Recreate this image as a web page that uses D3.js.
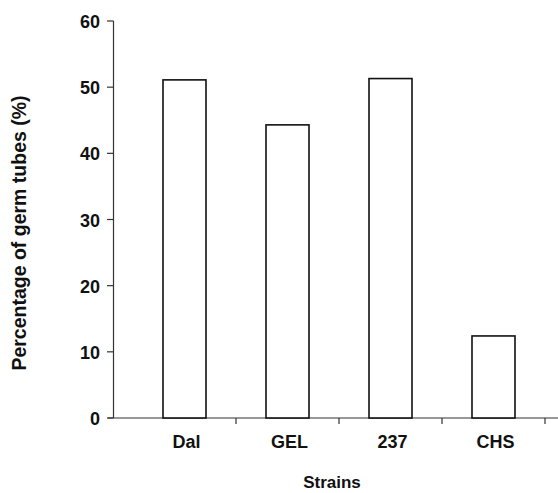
<!DOCTYPE html>
<html>
<head>
<meta charset="utf-8">
<script src="https://cdn.jsdelivr.net/npm/d3@7"></script>
<style>
  body { margin: 0; background: #fff; }
  text { font-family: "Liberation Sans", Arial, sans-serif; font-weight: bold; fill: #111; }
</style>
</head>
<body>
<div id="chart"></div>
<script>
// data
const strains = ["Dal", "GEL", "237", "CHS"];
const percentages = [51.1, 44.3, 51.3, 12.4];
const yTicks = [0, 10, 20, 30, 40, 50, 60];

const svg = d3.select("#chart")
    .append("svg")
    .attr("width", 558)
    .attr("height", 493);

// scales
const y = d3.scaleLinear()
    .domain([0, 60])
    .range([418, 21]);

const x = d3.scaleBand()
    .domain(strains)
    .range([133, 545])
    .paddingInner(0)
    .paddingOuter(0);

const barWidth = 43;

// y axis
svg.append("line")
    .attr("x1", 113.5).attr("x2", 113.5)
    .attr("y1", y(60)).attr("y2", y(0))
    .attr("stroke", "#333").attr("stroke-width", 1.2);

svg.append("g")
    .selectAll("line")
    .data(yTicks)
    .join("line")
    .attr("x1", 107).attr("x2", 113.5)
    .attr("y1", d => y(d)).attr("y2", d => y(d))
    .attr("stroke", "#333").attr("stroke-width", 1.2);

svg.append("g")
    .selectAll("text")
    .data(yTicks)
    .join("text")
    .attr("x", 100)
    .attr("y", d => y(d) + 7)
    .attr("text-anchor", "end")
    .style("font-size", "18px")
    .text(d => d);

// x axis
svg.append("line")
    .attr("x1", 108).attr("x2", 558)
    .attr("y1", 418).attr("y2", 418)
    .attr("stroke", "#333").attr("stroke-width", 1.2);

const xTickPos = strains.map(s => x(s) + x.bandwidth());
svg.append("g")
    .selectAll("line")
    .data(xTickPos)
    .join("line")
    .attr("x1", d => d).attr("x2", d => d)
    .attr("y1", 418).attr("y2", 424)
    .attr("stroke", "#333").attr("stroke-width", 1.2);

svg.append("g")
    .selectAll("text")
    .data(strains)
    .join("text")
    .attr("x", d => x(d) + x.bandwidth() / 2 + 2)
    .attr("y", 447.5)
    .attr("text-anchor", "middle")
    .style("font-size", "18px")
    .text(d => d);

// bars
svg.append("g")
    .selectAll("rect")
    .data(strains)
    .join("rect")
    .attr("x", d => x(d) + x.bandwidth() / 2 - barWidth / 2)
    .attr("y", (d, i) => y(percentages[i]))
    .attr("width", barWidth)
    .attr("height", (d, i) => y(0) - y(percentages[i]))
    .attr("fill", "#fff")
    .attr("stroke", "#111")
    .attr("stroke-width", 1.6);

// labels
svg.append("text")
    .attr("x", 332).attr("y", 488)
    .attr("text-anchor", "middle")
    .style("font-size", "17px")
    .text("Strains");

svg.append("text")
    .attr("transform", "translate(26, 233) rotate(-90)")
    .attr("text-anchor", "middle")
    .style("font-size", "19.5px")
    .text("Percentage of germ tubes (%)");
</script>
</body>
</html>
